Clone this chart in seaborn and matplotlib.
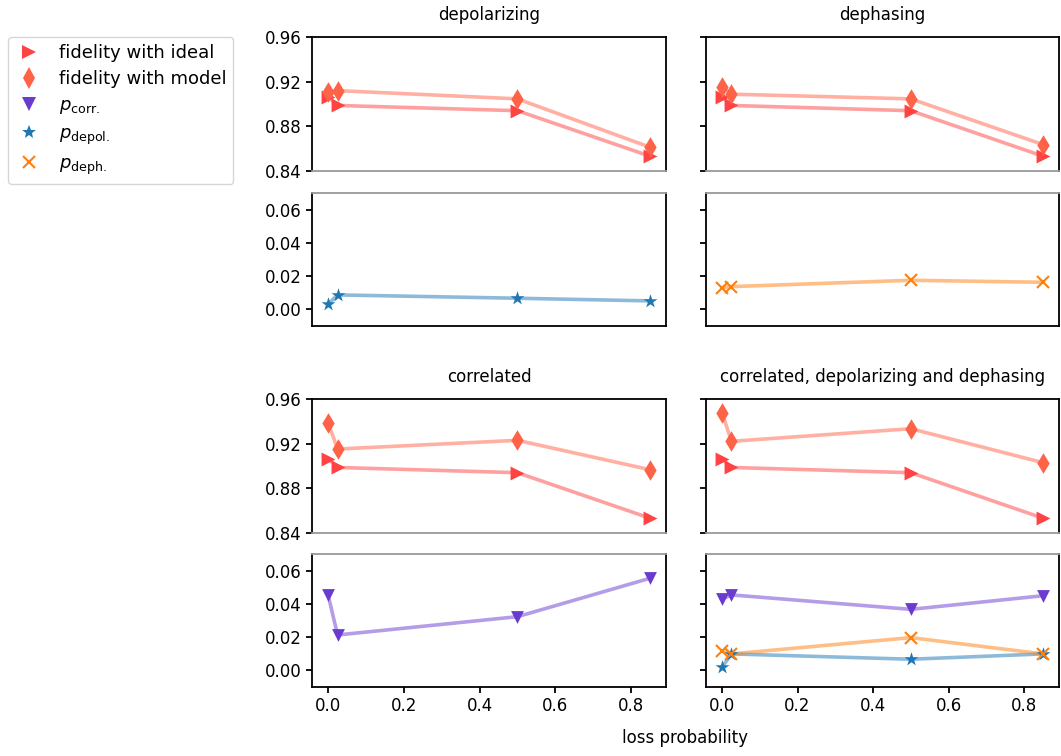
import matplotlib
matplotlib.use("Agg")
import matplotlib.pyplot as plt
import seaborn as sns
import pandas as pd
from matplotlib.lines import Line2D

# loss probabilities scanned
loss = [0.0, 0.025, 0.5, 0.85]

# fidelity of the noisy output with the ideal state (same for every model)
fid_ideal = [0.9067, 0.8987, 0.8940, 0.8533]

# fidelity of the noisy output with each fitted noise model
fid_model_depol = [0.9111, 0.9120, 0.9046, 0.8613]
fid_model_deph = [0.9156, 0.9088, 0.9046, 0.8637]
fid_model_corr = [0.9388, 0.9152, 0.9230, 0.8967]
fid_model_all = [0.9478, 0.9221, 0.9334, 0.9030]

# fitted noise parameters
depol_p_depol = [0.0031, 0.0087, 0.0067, 0.0051]
deph_p_deph = [0.0131, 0.0137, 0.0175, 0.0163]
corr_p_corr = [0.0454, 0.0213, 0.0323, 0.0554]
all_p_corr = [0.0428, 0.0454, 0.0367, 0.0449]
all_p_depol = [0.0019, 0.0099, 0.0067, 0.0099]
all_p_deph = [0.0117, 0.0099, 0.0197, 0.0099]

titles = ["depolarizing", "dephasing", "correlated",
          "correlated, depolarizing and dephasing"]

sns.set_theme(style="ticks")
plt.rcParams["font.family"] = ["DejaVu Sans"]
plt.rcParams.update({
    "axes.edgecolor": "black",
    "axes.linewidth": 1.3,
    "xtick.major.width": 1.3,
    "ytick.major.width": 1.3,
    "xtick.major.size": 4,
    "ytick.major.size": 4,
    "xtick.color": "black",
    "ytick.color": "black",
    "xtick.labelsize": 12,
    "ytick.labelsize": 12,
    "text.color": "black",
    "mathtext.default": "it",
})

C_IDEAL = "#ff4343"
C_MODEL = "#ff6347"
C_CORR = "#6b3bd0"
C_DEPOL = "#1f77b4"
C_DEPH = "#ff7f0e"

W, H = 1061, 756
fig = plt.figure(figsize=(W / 100, H / 100), dpi=100)


def px_axes(x0, y0, x1, y1):
    return fig.add_axes([x0 / W, 1 - y1 / H, (x1 - x0) / W, (y1 - y0) / H])


cols = [(312, 666), (706, 1059)]
groups = [((37, 171), (193, 326)), ((399, 533), (554, 687))]

fid_models = [fid_model_depol, fid_model_deph, fid_model_corr, fid_model_all]
params = [
    [("depol", depol_p_depol)],
    [("deph", deph_p_deph)],
    [("corr", corr_p_corr)],
    [("corr", all_p_corr), ("depol", all_p_depol), ("deph", all_p_deph)],
]
pstyle = {
    "corr": (C_CORR, "v", 85),
    "depol": (C_DEPOL, "*", 110),
    "deph": (C_DEPH, "X", 0),
}


def series(ax, y, color, marker, s):
    df = pd.DataFrame({"loss": loss, "value": y})
    sns.lineplot(data=df, x="loss", y="value", ax=ax, color=color,
                 alpha=0.5, lw=2.6, zorder=2)
    if marker == "X":
        ax.plot(df["loss"], df["value"], ls="none", marker="x", ms=8.5,
                mew=1.5, color=color, zorder=3)
    else:
        sns.scatterplot(data=df, x="loss", y="value", ax=ax, color=color,
                        marker=marker, s=s, linewidth=0, zorder=3)


for k in range(4):
    gi, ci = divmod(k, 2)
    (fy0, fy1), (py0, py1) = groups[gi]
    x0, x1 = cols[ci]
    axf = px_axes(x0, fy0, x1, fy1)
    axp = px_axes(x0, py0, x1, py1)

    series(axf, fid_ideal, C_IDEAL, ">", 100)
    series(axf, fid_models[k], C_MODEL, "d", 110)
    for name, vals in params[k]:
        c, m, s = pstyle[name]
        series(axp, vals, c, m, s)

    axf.set_ylim(0.84, 0.96)
    axf.set_yticks([0.84, 0.88, 0.92, 0.96])
    axp.set_ylim(-0.01, 0.07)
    axp.set_yticks([0.0, 0.02, 0.04, 0.06])
    for ax in (axf, axp):
        ax.set_xlim(-0.0425, 0.8925)
        ax.set_xlabel("")
        ax.set_ylabel("")
    axf.set_xticks([])
    axf.spines["bottom"].set_color("#999999")
    axp.spines["top"].set_color("#999999")
    if gi == 0:
        axp.set_xticks([])
    else:
        axp.set_xticks([0.0, 0.2, 0.4, 0.6, 0.8])
    if ci == 1:
        axf.set_yticklabels([])
        axp.set_yticklabels([])
    else:
        axf.set_yticklabels(["0.84", "0.88", "0.92", "0.96"])
        axp.set_yticklabels(["0.00", "0.02", "0.04", "0.06"])
    axf.set_title(titles[k], fontsize=12, pad=12)

fig.text(685 / W, 1 - 738 / H, "loss probability", ha="center",
         va="center", fontsize=12)

handles = [
    Line2D([], [], ls="none", marker=">", ms=10, color=C_IDEAL, mew=0),
    Line2D([], [], ls="none", marker="d", ms=11, color=C_MODEL, mew=0),
    Line2D([], [], ls="none", marker="v", ms=9.5, color=C_CORR, mew=0),
    Line2D([], [], ls="none", marker="*", ms=10, color=C_DEPOL, mew=0),
    Line2D([], [], ls="none", marker="x", ms=8.5, color=C_DEPH, mew=1.5),
]
labels = ["fidelity with ideal", "fidelity with model",
          r"$p_{\mathrm{corr.}}$", r"$p_{\mathrm{depol.}}$",
          r"$p_{\mathrm{deph.}}$"]
fig.legend(handles, labels, loc="upper left",
           bbox_to_anchor=(8 / W, 1 - 37 / H), borderaxespad=0,
           fontsize=13, frameon=True, fancybox=True, labelspacing=0.45,
           handlelength=1.5, handletextpad=0.9, edgecolor="#cccccc")

fig.savefig("out.png", dpi=100)
